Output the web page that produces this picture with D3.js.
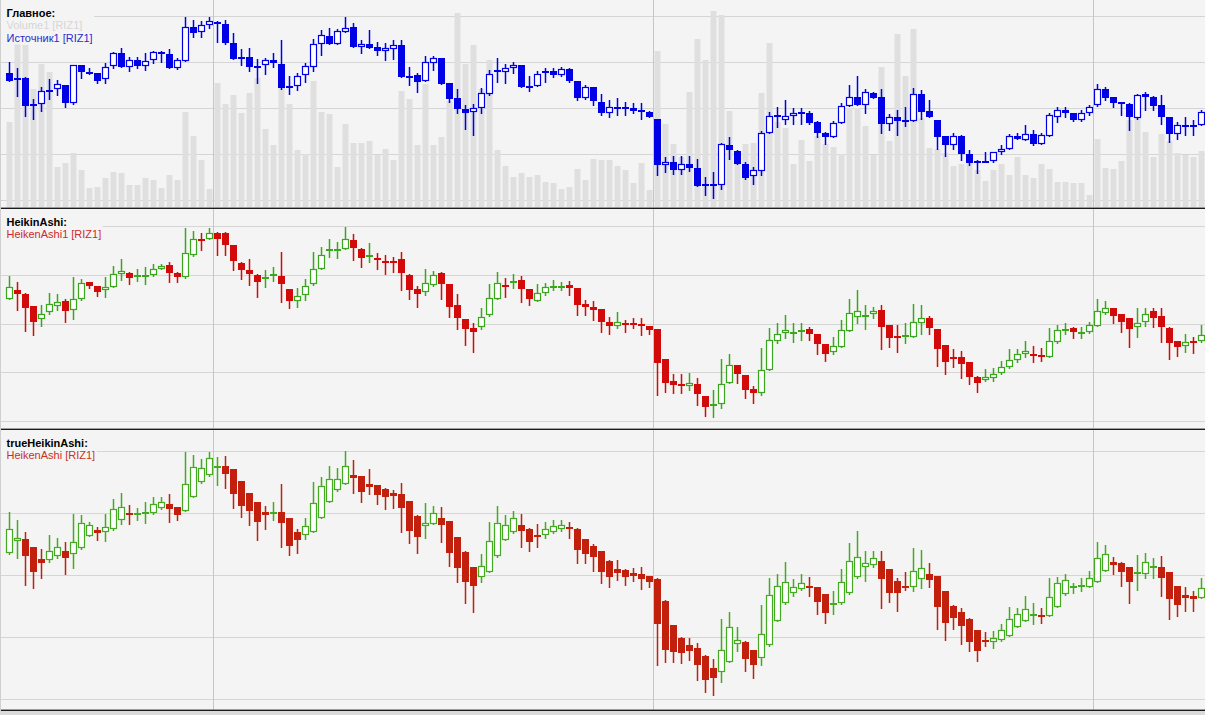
<!DOCTYPE html>
<html><head><meta charset="utf-8">
<script src="https://cdn.jsdelivr.net/npm/d3@7"></script>
<style>html,body{margin:0;padding:0;background:#f4f4f4;overflow:hidden}</style>
</head><body>
<svg id="c" width="1205" height="715"></svg>
<script>
// ---------- DATA (RIZ1, 150 bars) ----------
const open1 = [3430,3407,3415,3335,3335,3378,3380,3392,3338,3452,
3433,3428,3410,3450,3488,3448,3468,3451,3468,3493,
3485,3443,3466,3568,3551,3572,3583,3575,3518,3476,
3476,3449,3452,3468,3455,3389,3390,3422,3448,3515,
3540,3517,3553,3566,3508,3516,3506,3496,3501,3513,
3421,3423,3406,3458,3473,3398,3353,3320,3311,3323,
3365,3438,3433,3445,3452,3391,3390,3428,3435,3423,
3441,3405,3355,3386,3343,3310,3326,3326,3323,3318,
3313,3291,3155,3163,3140,3158,3146,3096,3095,3095,
3213,3195,3158,3120,3136,3250,3303,3290,3300,3312,
3308,3282,3251,3238,3280,3330,3358,3332,3370,3356,
3278,3296,3288,3286,3365,3315,3288,3240,3215,3240,
3188,3160,3165,3166,3193,3203,3240,3230,3248,3218,
3241,3298,3318,3308,3290,3310,3332,3380,3356,3341,
3335,3294,3365,3356,3332,3296,3248,3275,3271,3275];
const high1 = [3461,3443,3416,3351,3386,3410,3408,3393,3453,3453,
3445,3430,3458,3491,3505,3478,3476,3488,3496,3494,
3500,3473,3598,3588,3586,3596,3584,3588,3550,3500,
3503,3470,3475,3488,3528,3420,3428,3458,3530,3558,
3563,3560,3596,3578,3528,3558,3523,3518,3528,3528,
3448,3430,3481,3480,3474,3399,3380,3333,3336,3383,
3438,3473,3456,3463,3453,3420,3435,3443,3445,3448,
3443,3406,3393,3387,3365,3348,3355,3343,3338,3340,
3315,3293,3178,3180,3180,3180,3173,3118,3133,3220,
3238,3200,3163,3148,3256,3313,3326,3348,3323,3323,
3315,3286,3253,3286,3338,3393,3420,3380,3373,3380,
3306,3318,3328,3383,3378,3348,3289,3241,3251,3243,
3198,3170,3193,3194,3215,3248,3250,3275,3260,3250,
3310,3326,3326,3310,3318,3333,3395,3386,3358,3343,
3338,3365,3371,3360,3363,3298,3283,3296,3290,3318];
const low1 = [3405,3361,3301,3293,3315,3352,3363,3326,3337,3413,
3426,3400,3398,3443,3448,3436,3443,3438,3458,3463,
3443,3442,3465,3538,3536,3564,3521,3516,3471,3453,
3435,3400,3426,3446,3380,3365,3378,3401,3436,3483,
3516,3516,3551,3507,3488,3503,3483,3468,3470,3418,
3393,3371,3405,3438,3395,3343,3308,3263,3243,3308,
3364,3403,3398,3428,3386,3376,3389,3403,3418,3420,
3403,3348,3350,3333,3303,3298,3303,3303,3310,3291,
3296,3123,3133,3128,3126,3136,3091,3063,3056,3083,
3173,3156,3113,3096,3123,3249,3268,3276,3276,3278,
3278,3238,3218,3237,3279,3329,3332,3308,3354,3250,
3260,3243,3270,3285,3293,3297,3203,3180,3203,3170,
3153,3130,3164,3164,3188,3201,3231,3229,3213,3216,
3240,3283,3296,3286,3286,3303,3331,3348,3328,3303,
3260,3291,3318,3318,3276,3223,3233,3243,3243,3273];
const close1 = [3406,3414,3330,3336,3375,3371,3395,3338,3452,3431,
3428,3406,3448,3488,3448,3468,3451,3466,3493,3488,
3445,3468,3568,3550,3573,3586,3575,3518,3471,3471,
3448,3450,3468,3458,3385,3390,3420,3450,3516,3543,
3517,3555,3563,3508,3516,3505,3496,3503,3513,3418,
3419,3403,3461,3473,3396,3351,3320,3310,3323,3368,
3425,3433,3443,3452,3388,3388,3426,3436,3423,3441,
3406,3355,3386,3345,3310,3326,3322,3323,3315,3314,
3298,3155,3163,3140,3158,3146,3092,3092,3097,3216,
3198,3158,3116,3138,3251,3300,3296,3300,3308,3306,
3280,3251,3238,3280,3330,3358,3333,3371,3355,3278,
3296,3286,3290,3365,3313,3298,3238,3215,3240,3186,
3160,3166,3167,3193,3203,3240,3233,3248,3216,3243,
3303,3318,3308,3290,3308,3326,3380,3355,3340,3335,
3296,3362,3356,3331,3296,3248,3275,3270,3273,3311];
// volume, thousands of contracts
const volume = [85,167,162,119,144,135,41,45,55,38,
20,21,30,36,35,23,23,30,28,20,
33,28,96,72,48,19,125,104,112,95,
115,130,79,63,120,104,58,54,127,96,
93,41,83,65,65,66,53,59,48,117,
108,63,124,62,71,106,195,144,162,119,
148,58,42,31,35,31,32,26,25,19,
21,39,28,49,48,48,42,38,25,45,
18,156,84,64,51,116,169,148,197,193,
97,52,64,65,115,165,85,80,44,68,
47,72,64,61,54,100,100,81,53,141,
67,174,132,179,90,60,59,55,42,44,
49,38,27,37,44,32,51,32,30,44,
39,26,26,25,25,13,69,40,39,47,
87,89,76,51,74,67,55,53,51,57];

// HeikenAshi1 (panel "HeikinAshi")
const ha1Open = [3395,3418,3409,3374,3336,3356,3374,3388,3364,3393,
3441,3430,3418,3428,3466,3469,3461,3461,3462,3480,
3490,3468,3455,3518,3565,3564,3580,3580,3547,3497,
3476,3462,3450,3459,3460,3421,3388,3405,3435,3480,
3530,3530,3537,3561,3537,3512,3511,3502,3501,3507,
3463,3421,3414,3433,3467,3435,3377,3336,3313,3315,
3348,3395,3434,3438,3449,3421,3389,3410,3429,3429,
3433,3424,3379,3371,3365,3329,3318,3327,3327,3322,
3317,3308,3223,3161,3153,3148,3153,3119,3092,3095,
3156,3206,3178,3140,3127,3194,3275,3298,3296,3304,
3308,3294,3265,3244,3258,3304,3343,3346,3352,3364,
3320,3289,3291,3287,3325,3339,3308,3263,3230,3230,
3215,3174,3163,3169,3183,3200,3220,3237,3239,3236,
3230,3271,3307,3313,3298,3299,3318,3355,3367,3351,
3339,3315,3329,3359,3345,3313,3274,3261,3274,3274];
const ha1High = [3460,3443,3410,3375,3378,3410,3407,3395,3455,3452,
3443,3431,3457,3488,3506,3470,3478,3485,3494,3492,
3499,3471,3594,3587,3580,3596,3584,3584,3548,3499,
3507,3466,3476,3485,3526,3422,3424,3450,3528,3542,
3563,3556,3597,3577,3539,3554,3523,3518,3514,3528,
3464,3430,3480,3474,3471,3436,3407,3337,3327,3369,
3436,3471,3454,3466,3459,3422,3435,3438,3447,3443,
3445,3425,3391,3389,3366,3343,3356,3334,3339,3339,
3318,3309,3224,3180,3180,3183,3171,3119,3136,3225,
3239,3207,3179,3148,3256,3312,3325,3348,3325,3325,
3315,3295,3266,3287,3334,3393,3419,3378,3372,3378,
3321,3320,3327,3381,3377,3346,3309,3264,3251,3247,
3216,3175,3195,3199,3218,3251,3251,3274,3260,3254,
3312,3320,3325,3315,3315,3329,3395,3388,3368,3352,
3340,3367,3369,3367,3367,3314,3275,3296,3287,3320];
const ha1Low = [3394,3362,3303,3293,3318,3350,3362,3329,3336,3392,
3426,3402,3399,3427,3447,3435,3444,3435,3460,3478,
3441,3443,3454,3517,3532,3563,3520,3518,3476,3450,
3433,3400,3427,3445,3384,3367,3372,3391,3433,3479,
3514,3511,3536,3504,3485,3499,3480,3466,3471,3419,
3393,3372,3405,3432,3395,3343,3308,3263,3244,3308,
3347,3394,3400,3426,3386,3376,3388,3405,3419,3419,
3405,3348,3348,3334,3301,3296,3312,3301,3312,3291,
3296,3121,3131,3128,3126,3136,3093,3063,3060,3085,
3155,3156,3112,3098,3123,3193,3270,3284,3273,3279,
3277,3239,3218,3238,3257,3303,3327,3308,3341,3252,
3258,3244,3268,3286,3294,3296,3204,3181,3202,3169,
3154,3131,3162,3162,3182,3199,3216,3230,3214,3218,
3229,3270,3296,3282,3284,3298,3317,3350,3327,3301,
3258,3287,3317,3315,3273,3225,3233,3244,3242,3273];
const ha1Close = [3428,3407,3367,3329,3351,3379,3384,3361,3395,3438,
3432,3414,3428,3466,3473,3454,3462,3463,3480,3487,
3468,3457,3523,3564,3563,3580,3565,3548,3502,3476,
3466,3441,3457,3464,3436,3389,3403,3430,3480,3520,
3535,3535,3565,3539,3509,3520,3504,3497,3499,3468,
3419,3407,3438,3461,3435,3372,3339,3308,3301,3342,
3398,3438,3431,3445,3421,3395,3410,3427,3431,3432,
3424,3378,3370,3364,3329,3318,3328,3323,3323,3317,
3306,3213,3156,3150,3151,3155,3124,3088,3095,3154,
3206,3180,3137,3126,3192,3279,3296,3305,3299,3306,
3294,3265,3239,3261,3305,3353,3361,3349,3361,3315,
3284,3285,3293,3329,3339,3312,3252,3216,3227,3209,
3173,3156,3174,3181,3200,3222,3237,3246,3235,3233,
3274,3306,3309,3299,3300,3320,3359,3367,3346,3329,
3308,3327,3350,3341,3315,3268,3258,3271,3268,3293];

// HeikenAshi (panel "trueHeikinAshi")
const ha2Open = [3372,3399,3404,3385,3359,3356,3367,3377,3370,3383,
3411,3424,3420,3425,3447,3462,3459,3460,3461,3472,
3481,3474,3467,3496,3530,3545,3562,3565,3559,3533,
3505,3485,3463,3461,3463,3450,3420,3413,3420,3451,
3487,3512,3525,3546,3544,3527,3524,3515,3505,3503,
3488,3455,3432,3436,3450,3444,3408,3375,3341,3320,
3331,3365,3402,3419,3435,3427,3413,3413,3419,3425,
3430,3427,3403,3388,3377,3355,3337,3335,3329,3326,
3321,3315,3266,3213,3184,3168,3162,3144,3118,3107,
3131,3170,3175,3157,3140,3167,3222,3261,3283,3292,
3299,3296,3281,3260,3261,3283,3319,3341,3346,3355,
3336,3310,3299,3296,3314,3326,3321,3288,3255,3241,
3226,3201,3179,3175,3179,3189,3207,3222,3234,3235,
3233,3253,3281,3296,3298,3298,3309,3333,3353,3351,
3341,3325,3327,3340,3341,3330,3299,3279,3277,3273];
const ha2High = [3463,3446,3419,3386,3381,3413,3407,3396,3459,3456,
3442,3431,3459,3493,3507,3479,3473,3487,3498,3496,
3503,3475,3596,3590,3581,3598,3587,3589,3559,3533,
3506,3486,3477,3487,3527,3450,3426,3451,3530,3542,
3565,3561,3600,3579,3544,3559,3524,3518,3513,3529,
3489,3456,3483,3477,3474,3444,3409,3376,3342,3370,
3441,3476,3457,3467,3459,3428,3436,3441,3446,3446,
3442,3428,3404,3392,3378,3356,3357,3336,3339,3341,
3322,3316,3267,3213,3185,3184,3172,3145,3136,3226,
3241,3209,3176,3158,3258,3316,3325,3352,3315,3326,
3319,3297,3281,3287,3336,3394,3422,3378,3376,3378,
3337,3318,3330,3383,3379,3350,3322,3289,3256,3250,
3227,3202,3196,3200,3215,3253,3251,3276,3261,3251,
3316,3320,3327,3305,3318,3333,3396,3390,3363,3352,
3341,3368,3372,3362,3367,3330,3300,3298,3287,3318];
const ha2Low = [3371,3362,3301,3294,3316,3352,3362,3327,3339,3382,
3410,3402,3399,3424,3436,3436,3446,3439,3460,3471,
3441,3446,3466,3496,3529,3544,3524,3516,3472,3453,
3435,3402,3427,3446,3387,3368,3372,3403,3419,3450,
3486,3511,3525,3505,3487,3503,3482,3470,3472,3420,
3394,3372,3405,3436,3396,3344,3309,3262,3242,3309,
3330,3364,3402,3418,3387,3378,3387,3405,3418,3422,
3405,3350,3350,3333,3305,3296,3313,3301,3311,3292,
3296,3124,3131,3130,3127,3135,3090,3064,3057,3085,
3130,3155,3110,3095,3124,3166,3221,3260,3276,3291,
3276,3238,3218,3238,3260,3282,3318,3310,3342,3251,
3263,3244,3290,3287,3294,3296,3204,3179,3204,3170,
3155,3133,3166,3162,3178,3188,3207,3221,3214,3218,
3233,3252,3280,3283,3287,3297,3308,3333,3327,3300,
3261,3290,3316,3316,3276,3225,3233,3244,3244,3272];
const ha2Close = [3427,3407,3367,3330,3351,3378,3387,3362,3396,3439,
3435,3418,3430,3470,3474,3459,3462,3463,3481,3487,
3470,3457,3525,3563,3561,3583,3567,3548,3504,3476,
3466,3442,3456,3464,3439,3389,3402,3433,3483,3522,
3537,3537,3567,3540,3509,3520,3502,3498,3500,3472,
3421,3409,3439,3462,3435,3373,3340,3307,3300,3343,
3399,3439,3435,3450,3422,3396,3412,3427,3432,3435,
3425,3379,3370,3364,3331,3320,3329,3320,3321,3315,
3307,3215,3157,3153,3151,3155,3124,3090,3095,3157,
3209,3179,3137,3124,3192,3279,3299,3307,3298,3305,
3296,3264,3240,3261,3307,3355,3363,3351,3361,3315,
3284,3283,3294,3333,3339,3313,3253,3218,3227,3211,
3175,3155,3174,3183,3201,3225,3238,3248,3236,3233,
3274,3305,3313,3299,3301,3318,3361,3370,3347,3331,
3309,3330,3352,3343,3318,3270,3258,3272,3270,3294];

const priceLevels = [3600, 3462, 3324, 3186, 3048];   // horizontal grid levels
const sessionStarts = [26, 81, 136];                   // first bar of each new session
const labels = [
  {title: "Главное:", items: [{t: "Volume1 [RIZ1]", c: "#d6d6d6"}, {t: "Источник1 [RIZ1]", c: "#2a2ad0"}]},
  {title: "HeikinAshi:", items: [{t: "HeikenAshi1 [RIZ1]", c: "#cc2a2a"}]},
  {title: "trueHeikinAshi:", items: [{t: "HeikenAshi [RIZ1]", c: "#c8321e"}]}
];

// ---------- LAYOUT ----------
const W = 1205, H = 715;
const svg = d3.select("#c");
svg.append("rect").attr("width", W).attr("height", H).attr("fill", "#f4f4f4");

const x = d3.scaleLinear().domain([0, open1.length - 1]).range([9.33, 9.33 + 8 * (open1.length - 1)]);
const col = i => Math.round(x(i));

const panels = [
  {top: 0, bottom: 207.5, g0: 16, g1: 200.3, label: labels[0], baseY: 17},
  {top: 209, bottom: 428.5, g0: 226.3, g1: 421, label: labels[1], baseY: 226},
  {top: 430, bottom: 710, g0: 450.7, g1: 699, label: labels[2], baseY: 446.5}
];
panels.forEach((p, k) => {
  p.y = d3.scaleLinear().domain([priceLevels[0], priceLevels[priceLevels.length - 1]]).range([p.g0, p.g1]);
  const clipId = "clip" + k;
  svg.append("clipPath").attr("id", clipId).append("rect")
    .attr("x", 0).attr("y", p.top).attr("width", W).attr("height", p.bottom - p.top);
  p.g = svg.append("g").attr("clip-path", `url(#${clipId})`);
});

function grid(p) {
  p.g.append("g").selectAll("line").data(priceLevels).join("line")
    .attr("x1", 0).attr("x2", W)
    .attr("y1", d => Math.round(p.y(d)) + 0.5).attr("y2", d => Math.round(p.y(d)) + 0.5)
    .attr("stroke", "#d5d5d5").attr("stroke-width", 1);
  p.g.append("g").selectAll("line").data(sessionStarts).join("line")
    .attr("x1", d => Math.round(x(d - 0.5)) + 0.5).attr("x2", d => Math.round(x(d - 0.5)) + 0.5)
    .attr("y1", p.top).attr("y2", p.bottom)
    .attr("stroke", "#c6c6c6").attr("stroke-width", 1);
}

function candles(p, O, Hi, Lo, C, style) {
  const idx = d3.range(O.length);
  const up = i => C[i] >= O[i];
  const y = p.y;
  const g = p.g.append("g");
  g.append("g").selectAll("line").data(idx).join("line")
    .attr("x1", i => col(i) + 0.5).attr("x2", i => col(i) + 0.5)
    .attr("y1", i => Math.round(y(Hi[i]))).attr("y2", i => Math.round(y(Lo[i])) + 1)
    .attr("stroke", i => up(i) ? style.up : style.down).attr("stroke-width", 1.5);
  g.append("g").selectAll("rect").data(idx).join("rect")
    .each(function (i) {
      const t = Math.round(y(Math.max(O[i], C[i])));
      const b = Math.round(y(Math.min(O[i], C[i])));
      const h = b - t;
      const s = d3.select(this);
      if (up(i) && h >= 3) {
        s.attr("x", col(i) - 2.5).attr("y", t + 0.5).attr("width", 6).attr("height", h - 1)
          .attr("fill", style.hollow).attr("stroke", style.up).attr("stroke-width", 1.2);
      } else {
        s.attr("x", col(i) - 3).attr("y", t).attr("width", 7).attr("height", Math.max(h, 2))
          .attr("fill", up(i) ? style.up : style.down);
      }
    });
}

function legend(p) {
  const g = svg.append("g");
  const box = g.append("rect").attr("fill", "#f4f4f4");
  const tx = 6.5;
  const texts = [];
  texts.push(g.append("text").attr("x", tx).attr("y", p.baseY).text(p.label.title)
    .attr("font-weight", "bold").attr("fill", "#000"));
  p.label.items.forEach((it, j) => {
    texts.push(g.append("text").attr("x", tx).attr("y", p.baseY + 12.3 * (j + 1)).text(it.t).attr("fill", it.c));
  });
  g.selectAll("text").attr("font-family", "'Liberation Sans', Arial, sans-serif").attr("font-size", "11px");
  const wmax = d3.max(texts, t => t.node().getComputedTextLength());
  const nLines = texts.length;
  box.attr("x", 0).attr("y", p.baseY - 11).attr("width", tx + wmax + 1.5).attr("height", 12.3 * nLines + 1.5);
}

// Panel 1: grid, volume, candles
const p1 = panels[0];
grid(p1);
const yv = d3.scaleLinear().domain([0, 200]).range([207.5, 7.5]);
p1.g.append("g").selectAll("rect").data(volume).join("rect")
  .attr("x", (d, i) => col(i) - 2.5).attr("width", 6)
  .attr("y", d => Math.round(yv(d))).attr("height", d => 208 - Math.round(yv(d)))
  .attr("fill", "#dfdfdf");
candles(p1, open1, high1, low1, close1, {up: "#0000e6", down: "#0000e6", hollow: "#ffffff"});

// Panel 2
grid(panels[1]);
candles(panels[1], ha1Open, ha1High, ha1Low, ha1Close, {up: "#3aa61e", down: "#d20a0a", hollow: "#ffffff"});

// Panel 3
grid(panels[2]);
candles(panels[2], ha2Open, ha2High, ha2Low, ha2Close, {up: "#44aa22", down: "#c2200c", hollow: "#ffffff"});

panels.forEach(legend);

// separators
svg.append("rect").attr("x", 0).attr("y", 207.6).attr("width", W).attr("height", 1.4).attr("fill", "#1c1c1c");
svg.append("rect").attr("x", 0).attr("y", 428.6).attr("width", W).attr("height", 1.4).attr("fill", "#1c1c1c");
svg.append("rect").attr("x", 0).attr("y", 709.6).attr("width", W).attr("height", 1.4).attr("fill", "#1c1c1c");
svg.append("rect").attr("x", 0).attr("y", 711).attr("width", W).attr("height", 4).attr("fill", "#dadada");
svg.append("line").attr("x1", 0.5).attr("x2", 0.5).attr("y1", 0).attr("y2", 711).attr("stroke", "#cfcfcf");
</script>
</body></html>
